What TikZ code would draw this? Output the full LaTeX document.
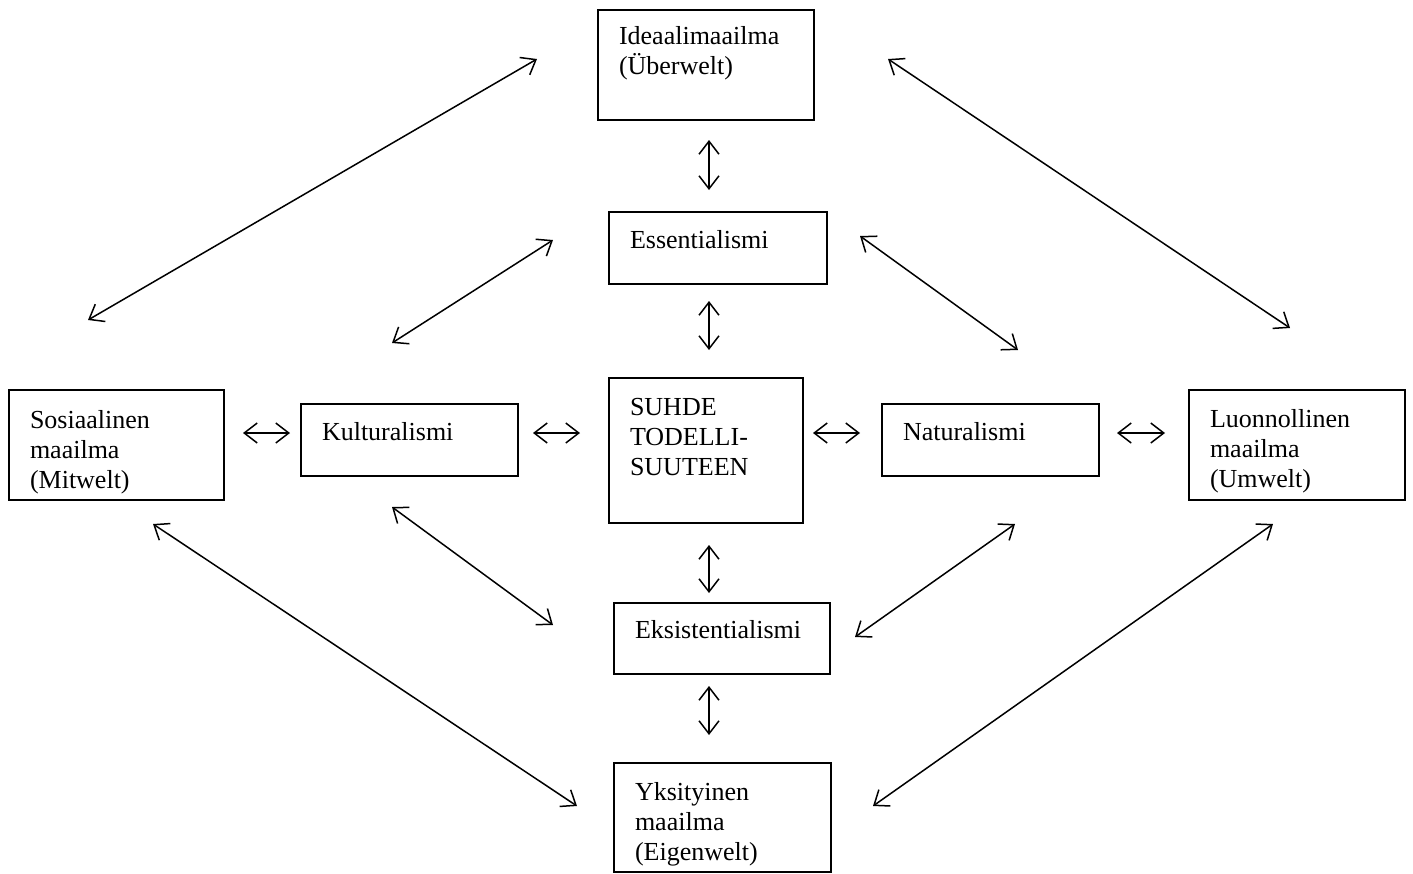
\documentclass[tikz,border=0pt]{standalone}
\usepackage{fontspec}
\setmainfont{Liberation Serif}
\usetikzlibrary{arrows.meta}

\begin{document}
\begin{tikzpicture}[x=0.5pt,y=-0.5pt]
    \tikzset{BoxStyle/.style = {%
        draw, line width=1pt,
        anchor=north west, align=left,
        inner xsep=10.5pt, inner ysep=0pt,
        font=\fontsize{13}{15}\selectfont},
      LinkStyle/.style = {%
        line width=0.75pt,
        {Straight Barb[length=6.5pt,width=10pt]}-{Straight Barb[length=6.5pt,width=10pt]}}}
    \useasboundingbox (0,0) rectangle (1413,873);
    % boxes
    \node[BoxStyle, text width=87pt, text height=17pt, text depth=38pt] (ideaali) at (597,9) {Ideaalimaailma\\(Überwelt)};
    \node[BoxStyle, text width=88pt, text height=18pt, text depth=18pt] (essent) at (608,211) {Essentialismi};
    \node[BoxStyle, text width=76pt, text height=18.5pt, text depth=54pt] (suhde) at (608,377) {SUHDE\\TODELLI-\\SUUTEEN};
    \node[BoxStyle, text width=87pt, text height=17.5pt, text depth=18pt] (eksist) at (613,602) {Eksistentialismi};
    \node[BoxStyle, text width=87.5pt, text height=18.5pt, text depth=36pt] (yksit) at (613,762) {Yksityinen\\maailma\\(Eigenwelt)};
    \node[BoxStyle, text width=86.5pt, text height=19pt, text depth=36pt] (sosiaal) at (8,389) {Sosiaalinen\\maailma\\(Mitwelt)};
    \node[BoxStyle, text width=87.5pt, text height=18pt, text depth=18pt] (kultur) at (300,403) {Kulturalismi};
    \node[BoxStyle, text width=87.5pt, text height=18pt, text depth=18pt] (natur) at (881,403) {Naturalismi};
    \node[BoxStyle, text width=87pt, text height=18.5pt, text depth=36.5pt] (luonnol) at (1188,389) {Luonnollinen\\maailma\\(Umwelt)};
    % arrows
    \foreach \n/\xa/\ya/\xb/\yb in {%
        d1/88/320/537/59, d2/888/59/1290/328,
        d3/153/524/577/806, d4/1273/524/873/806,
        m1/392/343/553/240, m2/860/236/1018/350,
        m3/392/507/553/625, m4/1015/524/855/637,
        v1/709/140/709/190, v2/709/301/709/350,
        v3/709/545/709/593, v4/709/686/709/735,
        h1/243/433/290/433, h2/533/433/580/433,
        h3/813/433/860/433, h4/1117/433/1165/433}{
      \coordinate (\n a) at (\xa,\ya);
      \coordinate (\n b) at (\xb,\yb);
      \draw[LinkStyle] (\n a) -- (\n b);
    }
\end{tikzpicture}
\end{document}
